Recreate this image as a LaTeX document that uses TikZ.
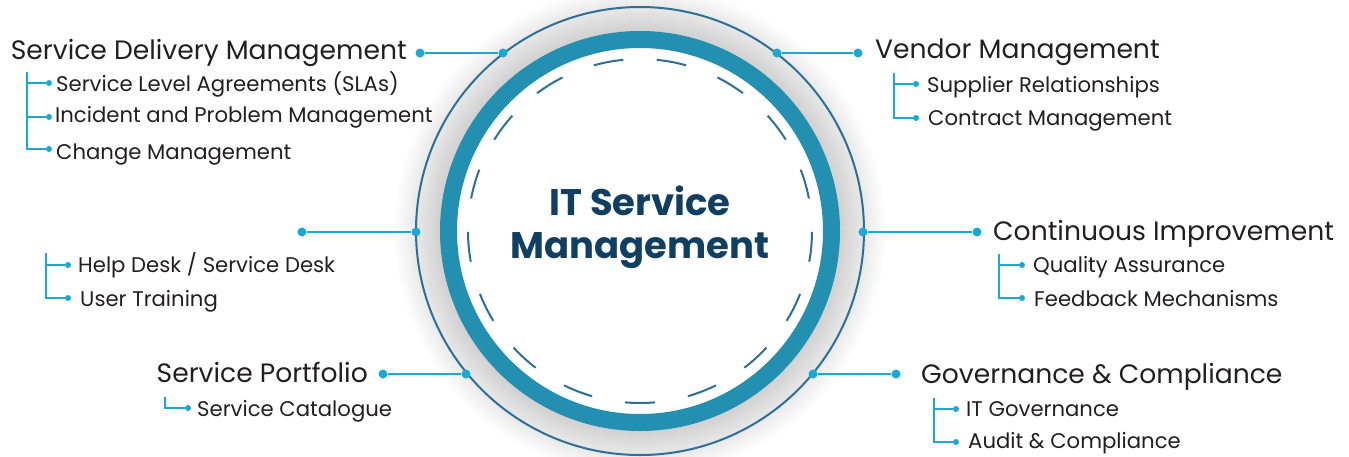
\documentclass[tikz,border=0pt]{standalone}
\usepackage{fontspec}
\setmainfont{Poppins}
\usetikzlibrary{positioning}
\definecolor{mring}{HTML}{238FB1}
\definecolor{mline}{HTML}{2D6F95}
\definecolor{mcyan}{HTML}{1AA9D5}
\definecolor{mnavy}{HTML}{113F61}
\definecolor{mtext}{HTML}{231F20}
\tikzset{dot/.style = {circle, fill=mcyan, inner sep=0pt, minimum size=9pt},
         subdot/.style = {circle, fill=mcyan, inner sep=0pt, minimum size=6pt},
         conn/.style = {mcyan, line width=1.8pt},
         bracket/.style = {mcyan, line width=2.4pt},
         head/.style = {inner sep=0pt, text=mtext, font=\fontsize{26.6}{30}\selectfont},
         item/.style = {anchor=base west, inner sep=0pt, text=mtext, font=\fontsize{21.2}{24}\selectfont},
         title/.style = {anchor=base, inner sep=0pt, text=mnavy, font=\bfseries\fontsize{37}{44}\selectfont}}

\begin{document}
\begin{tikzpicture}[x=1pt, y=-1pt]
    \useasboundingbox (0,0) rectangle (1349,456);
    \coordinate (c) at (640,231);

    % shadow round the ring
    \foreach \rr in {246,245,...,200}
      \fill [black, opacity=0.0055] (c) circle [radius=\rr pt];
    \fill [white] (c) circle [radius=191pt];

    \draw [mline, line width=2pt] (c) circle [radius=224pt];
    \draw [mring, line width=17pt] (c) circle [radius=191.5pt];
    \foreach \k [evaluate=\k as \a using 270+\k*360/17] in {0,...,16}
      \draw [mline, line width=2pt] (c) ++(\a-5:172pt) arc [start angle=\a-5, end angle=\a+5, radius=172pt];

    \node [title] (title1) at (640,215) {IT Service};
    \node [title] (title2) at (640,258) {Management};

    % Service Delivery Management
    \node [head, anchor=base east] (sdm) at (407,59) {Service Delivery Management};
    \node [dot] (sdm-d) at (420,53) {};
    \node [dot] (sdm-c) at (503,53) {};
    \draw [conn] (sdm-d) -- (sdm-c);
    \coordinate (sdm-t) at (27,72);
    \node [subdot] (sdm-i1) at (49,83) {};
    \node [subdot] (sdm-i2) at (49,117) {};
    \node [subdot] (sdm-i3) at (49,149) {};
    \draw [bracket] (sdm-t) |- (sdm-i3);
    \draw [bracket] (sdm-t |- sdm-i1) -- (sdm-i1);
    \draw [bracket] (sdm-t |- sdm-i2) -- (sdm-i2);
    \node [item] (sla) at (56,91) {Service Level Agreements (SLAs)};
    \node [item] (ipm) at (55,122) {Incident and Problem Management};
    \node [item] (chm) at (56,159) {Change Management};

    % left, no heading
    \node [dot] (mid-d) at (302,232) {};
    \node [dot] (mid-c) at (416,232) {};
    \draw [conn] (mid-d) -- (mid-c);
    \coordinate (mid-t) at (46,253);
    \node [subdot] (mid-i1) at (68,265) {};
    \node [subdot] (mid-i2) at (68,298) {};
    \draw [bracket] (mid-t) |- (mid-i2);
    \draw [bracket] (mid-t |- mid-i1) -- (mid-i1);
    \node [item] (hd) at (78,272) {Help Desk / Service Desk};
    \node [item] (ut) at (80,306) {User Training};

    % Service Portfolio
    \node [head, anchor=base east] (sp) at (368,382) {Service Portfolio};
    \node [dot] (sp-d) at (383,374) {};
    \node [dot] (sp-c) at (466,374) {};
    \draw [conn] (sp-d) -- (sp-c);
    \coordinate (sp-t) at (165,397);
    \node [subdot] (sp-i1) at (188,408) {};
    \draw [bracket] (sp-t) |- (sp-i1);
    \node [item] (sc) at (197,416) {Service Catalogue};

    % Vendor Management
    \node [head, anchor=base west] (vm) at (875,58) {Vendor Management};
    \node [dot] (vm-c) at (777,53) {};
    \node [dot] (vm-d) at (858,53) {};
    \draw [conn] (vm-c) -- (vm-d);
    \coordinate (vm-t) at (894,73);
    \node [subdot] (vm-i1) at (916,84) {};
    \node [subdot] (vm-i2) at (916,118) {};
    \draw [bracket] (vm-t) |- (vm-i2);
    \draw [bracket] (vm-t |- vm-i1) -- (vm-i1);
    \node [item] (sr) at (927,92) {Supplier Relationships};
    \node [item] (cm) at (928,125) {Contract Management};

    % Continuous Improvement
    \node [head, anchor=base west] (ci) at (993,240) {Continuous Improvement};
    \node [dot] (ci-c) at (863,232) {};
    \node [dot] (ci-d) at (977,232) {};
    \draw [conn] (ci-c) -- (ci-d);
    \coordinate (ci-t) at (999,254);
    \node [subdot] (ci-i1) at (1022,265) {};
    \node [subdot] (ci-i2) at (1022,298) {};
    \draw [bracket] (ci-t) |- (ci-i2);
    \draw [bracket] (ci-t |- ci-i1) -- (ci-i1);
    \node [item] (qa) at (1033,272) {Quality Assurance};
    \node [item] (fm) at (1034,306) {Feedback Mechanisms};

    % Governance & Compliance
    \node [head, anchor=base west] (gc) at (921,383) {Governance \& Compliance};
    \node [dot] (gc-c) at (813,374) {};
    \node [dot] (gc-d) at (896,374) {};
    \draw [conn] (gc-c) -- (gc-d);
    \coordinate (gc-t) at (934,398);
    \node [subdot] (gc-i1) at (956,409) {};
    \node [subdot] (gc-i2) at (956,442) {};
    \draw [bracket] (gc-t) |- (gc-i2);
    \draw [bracket] (gc-t |- gc-i1) -- (gc-i1);
    \node [item] (itg) at (966,416) {IT Governance};
    \node [item] (ac) at (968,448) {Audit \& Compliance};
\end{tikzpicture}
\end{document}
